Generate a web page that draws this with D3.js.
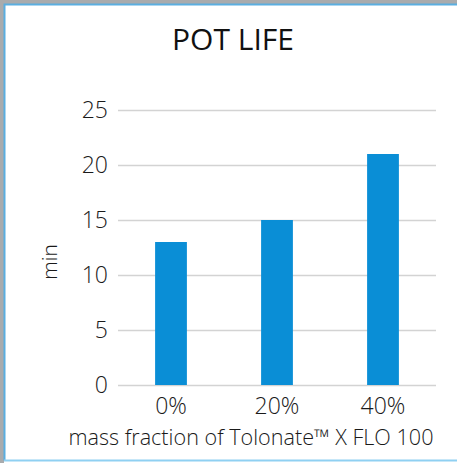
<!DOCTYPE html>
<html>
<head>
<meta charset="utf-8">
<script src="https://cdn.jsdelivr.net/npm/d3@7"></script>
<style>
  html, body { margin: 0; padding: 0; background: #a9abad; }
  svg { display: block; }
  text { font-family: "Open Sans", "Noto Sans", sans-serif; fill: #1a1a1a; font-weight: 300; }
</style>
</head>
<body>
<svg id="chart"></svg>
<script>
// chart data
var categories = ['0%', '20%', '40%'];
var potLife = [13, 15, 21];
var yTicks = [0, 5, 10, 15, 20, 25];

var width = 457;
var height = 463;
var margin = {top: 110, right: 21, bottom: 78, left: 118};

var svg = d3.select('#chart')
  .attr('width', width)
  .attr('height', height);

// panel with blue frame
svg.append('rect')
  .attr('x', 4).attr('y', 4)
  .attr('width', width - 4).attr('height', height - 4)
  .style('fill', '#ffffff');
svg.append('path')
  .attr('d', 'M4.5,' + (height - 2.5) + 'V4.5H' + width)
  .style('fill', 'none')
  .style('stroke', '#5aaee0')
  .style('stroke-width', 2);
svg.append('line')
  .attr('x1', 4).attr('x2', width)
  .attr('y1', height - 2.5).attr('y2', height - 2.5)
  .style('stroke', '#8fd0f2')
  .style('stroke-width', 2);

var x = d3.scaleBand()
  .domain(categories)
  .range([margin.left, width - margin.right])
  .paddingInner(0.7)
  .paddingOuter(0.35);

var y = d3.scaleLinear()
  .domain([0, 25])
  .range([height - margin.bottom, margin.top]);

// gridlines + y labels
var yAxis = svg.append('g')
  .attr('transform', 'translate(' + margin.left + ',0)')
  .call(d3.axisLeft(y)
    .tickValues(yTicks)
    .tickSize(-(width - margin.left - margin.right))
    .tickPadding(10));
yAxis.select('.domain').remove();
yAxis.selectAll('line')
  .style('stroke', '#d3d3d3')
  .style('stroke-width', 1.5);
yAxis.selectAll('text')
  .style('font-size', '23px')
  .style('font-weight', 300)
  .style('fill', '#1a1a1a');

// bars
svg.append('g')
  .selectAll('rect')
  .data(potLife)
  .enter().append('rect')
  .attr('x', function(d, i) { return x(categories[i]); })
  .attr('y', function(d) { return y(d); })
  .attr('width', x.bandwidth())
  .attr('height', function(d) { return y(0) - y(d); })
  .style('fill', '#0a8ed6');

// x labels
var xAxis = svg.append('g')
  .attr('transform', 'translate(0,' + (height - margin.bottom) + ')')
  .call(d3.axisBottom(x).tickSize(0).tickPadding(13));
xAxis.select('.domain').remove();
xAxis.selectAll('text')
  .style('font-size', '23px')
  .style('font-weight', 300)
  .style('fill', '#1a1a1a');

// title
svg.append('text')
  .attr('x', 233)
  .attr('y', 50)
  .attr('text-anchor', 'middle')
  .style('font-size', '30px')
  .style('font-weight', 500)
  .style('fill', '#111')
  .text('POT LIFE');

// axis titles
svg.append('text')
  .attr('x', 251)
  .attr('y', 445)
  .attr('text-anchor', 'middle')
  .style('font-size', '21.6px')
  .text('mass fraction of Tolonate\u2122 X FLO 100');

svg.append('text')
  .attr('transform', 'translate(57,262) rotate(-90)')
  .attr('text-anchor', 'middle')
  .style('font-size', '21px')
  .text('min');
</script>
</body>
</html>
